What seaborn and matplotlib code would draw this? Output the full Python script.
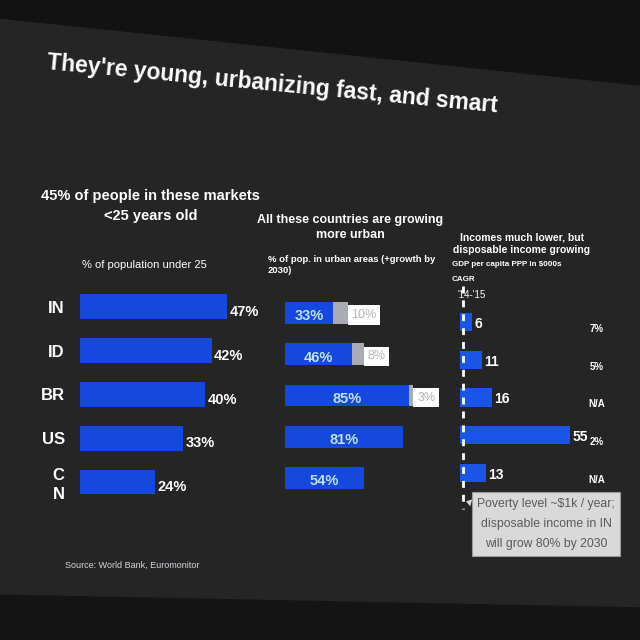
import matplotlib
matplotlib.use("Agg")
import matplotlib.pyplot as plt
from matplotlib import font_manager
from matplotlib.patches import Polygon
import pandas as pd
import seaborn as sns

# data
countries = ["IN", "ID", "BR", "US", "CN"]
country_labels = ["IN", "ID", "BR", "US", "C\nN"]
under25 = [47, 42, 40, 33, 24]
urban = [33, 46, 85, 81, 54]
urban_growth = [10, 8, 3, None, None]
gdp_ppp = [6, 11, 16, 55, 13]
cagr = ["7%", "5%", "N/A", "2%", "N/A"]

sns.set_theme(style="dark")
names = {f.name for f in font_manager.fontManager.ttflist}
font = "Liberation Sans Narrow" if "Liberation Sans Narrow" in names else "Liberation Sans"
plt.rcParams["font.family"] = [font, "DejaVu Sans"]

df = pd.DataFrame({"country": countries, "under25": under25, "urban": urban,
                   "growth": urban_growth, "gdp": gdp_ppp, "cagr": cagr})
df["urban_total"] = df["urban"] + df["growth"].fillna(0)

BG = "#252525"
BLUE = "#1548dc"
fig = plt.figure(figsize=(6.4, 6.4), dpi=100)
fig.patch.set_facecolor(BG)

# darker edges of the photo (ceiling above, floor below the screen)
fig.add_artist(Polygon([[0, 0], [1, 0], [1, 0.05], [0, 0.07]], closed=True,
                       transform=fig.transFigure, color="#141414", zorder=0))
fig.add_artist(Polygon([[0, 1], [1, 1], [1, 1 - 85 / 640], [0, 1 - 18 / 640]], closed=True,
                       transform=fig.transFigure, color="#121212", zorder=0))


def clean(ax):
    ax.set_facecolor("none")
    for s in ax.spines.values():
        s.set_visible(False)
    ax.set_xlabel("")
    ax.set_ylabel("")
    ax.set_xticks([])
    ax.tick_params(left=False, bottom=False)


# title
fig.text(0.425, 0.868, "They're young, urbanizing fast, and smart", color="white",
         fontsize=16.5, fontweight="bold", ha="center", va="center", rotation=-5.5,
         rotation_mode="anchor")

# panel 1: population under 25
ax1 = fig.add_axes([0.125, 0.2127, 0.245, 0.342])
sns.barplot(data=df, x="under25", y="country", color=BLUE, saturation=1, width=0.57,
            linewidth=0, ax=ax1)
ax1.set_xlim(0, 50)
ax1.set_ylim(4.5, -0.5)
clean(ax1)
ax1.set_yticks(range(len(countries)))
ax1.set_yticklabels(country_labels, color="white", fontsize=12, fontweight="bold", linespacing=1.3)
ax1.tick_params(axis="y", pad=5)
for i, v in enumerate(under25):
    ax1.text(v + 0.8, i + 0.12, f"{v}%", color="white", fontsize=10.5, fontweight="bold", va="center")

fig.text(0.235, 0.678, "45% of people in these markets\n<25 years old", color="white",
         fontsize=10.5, fontweight="bold", ha="center", va="center", linespacing=1.55)
fig.text(0.225, 0.586, "% of population under 25", color="white", fontsize=8, ha="center", va="center")

# panel 2: urbanisation with growth to 2030
ax2 = fig.add_axes([285 / 640, 0.221, 146 / 640, 0.322])
sns.barplot(data=df, x="urban_total", y="country", color="#a8abb2", saturation=1, width=0.53,
            linewidth=0, ax=ax2)
sns.barplot(data=df, x="urban", y="country", color=BLUE, saturation=1, width=0.53,
            linewidth=0, ax=ax2)
ax2.set_xlim(0, 100)
ax2.set_ylim(4.5, -0.5)
clean(ax2)
ax2.set_yticks([])
for i, (u, g, t) in enumerate(zip(urban, urban_growth, df["urban_total"])):
    ax2.text(u / 2, i + 0.08, f"{u}%", color="#bfe1ff", fontsize=10.5, fontweight="bold",
             ha="center", va="center")
    if g is not None:
        ax2.text(t + 2.5, i + 0.05, f"{g}%", color="#b5b5b5", fontsize=9, va="center",
                 bbox=dict(boxstyle="square,pad=0.3", fc="white", ec="none"))

fig.text(0.547, 0.644, "All these countries are growing\nmore urban", color="white",
         fontsize=9, fontweight="bold", ha="center", va="center", linespacing=1.35)
fig.text(268 / 640, 0.586, "% of pop. in urban areas (+growth by\n2030)", color="white",
         fontsize=6.8, fontweight="bold", ha="left", va="center", linespacing=1.2)

# panel 3: GDP per capita
ax3 = fig.add_axes([460 / 640, 0.2314, 0.1875, 0.295])
sns.barplot(data=df, x="gdp", y="country", color="#1a55e8", saturation=1, width=0.48,
            linewidth=0, ax=ax3)
ax3.set_xlim(0, 60)
ax3.set_ylim(4.5, -0.5)
clean(ax3)
ax3.set_yticks([])
for i, (v, c) in enumerate(zip(gdp_ppp, cagr)):
    ax3.text(v + 1.2, i + 0.05, str(v), color="white", fontsize=10, fontweight="bold", va="center")
    ax3.text(68.5, i + 0.18, c, color="white", fontsize=7, fontweight="bold", va="center",
             ha="center", clip_on=False)
ax3.plot([1.5, 1.5], [-0.95, 4.95], color="white", lw=2, ls=(0, (2.5, 2.5)), clip_on=False)
ax3.text(-1, -0.72, "'14-'15", color="white", fontsize=7, va="center", ha="left")
ax3.annotate("Poverty level ~$1k / year;\ndisposable income in IN\nwill grow 80% by 2030",
             xy=(3, 4.75), xytext=(546 / 640, 1 - 524 / 640), textcoords="figure fraction",
             annotation_clip=False,
             color="#5a5a5a", fontsize=8.8, ha="center", va="center", linespacing=1.9,
             bbox=dict(boxstyle="square,pad=0.45", fc="#d9d9d9", ec="#9a9a9a", lw=0.8),
             arrowprops=dict(arrowstyle="wedge,tail_width=0.6", fc="#d9d9d9", ec="none",
                             shrinkA=0, shrinkB=0))

fig.text(0.815, 0.619, "Incomes much lower, but\ndisposable income growing", color="white",
         fontsize=7.5, fontweight="bold", ha="center", va="center", linespacing=1.25)
fig.text(452 / 640, 0.586, "GDP per capita PPP in $000s", color="white", fontsize=5.8,
         fontweight="bold", ha="left", va="center")
fig.text(452 / 640, 0.563, "CAGR", color="white", fontsize=5.8, fontweight="bold",
         ha="left", va="center")

fig.text(65 / 640, 1 - 565 / 640, "Source: World Bank, Euromonitor", color="#d5d5dd",
         fontsize=6.5, ha="left", va="center")

fig.savefig("out.png", dpi=100, facecolor=fig.get_facecolor())
